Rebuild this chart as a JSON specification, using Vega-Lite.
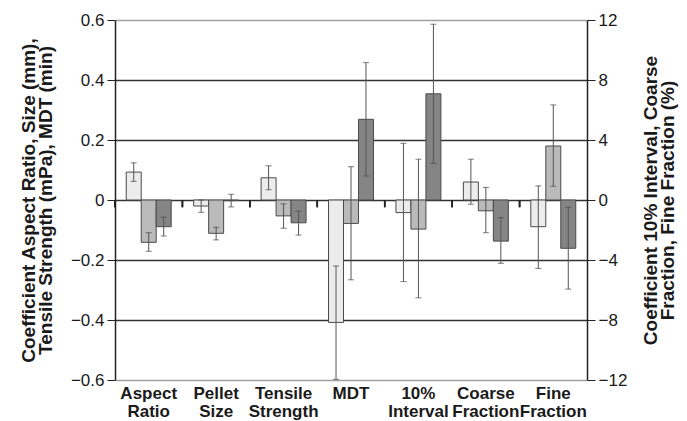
{
  "$schema": "https://vega.github.io/schema/vega-lite/v6.json",
  "autosize": "none",
  "width": 472,
  "height": 360,
  "padding": {"left": 115, "top": 20, "right": 100, "bottom": 41},
  "background": "white",
  "config": {
    "font": "Liberation Sans",
    "view": {"stroke": null},
    "axis": {"labelFont": "Liberation Sans", "titleFont": "Liberation Sans"}
  },
  "datasets": {
    "bars": [
      {"cat": "Aspect|Ratio", "s": "a", "v": 0.093, "lo": 0.062, "hi": 0.124},
      {"cat": "Aspect|Ratio", "s": "b", "v": -0.141, "lo": -0.171, "hi": -0.109},
      {"cat": "Aspect|Ratio", "s": "c", "v": -0.089, "lo": -0.12, "hi": -0.057},
      {"cat": "Pellet|Size", "s": "a", "v": -0.02, "lo": -0.041, "hi": 0.0},
      {"cat": "Pellet|Size", "s": "b", "v": -0.111, "lo": -0.133, "hi": -0.091},
      {"cat": "Pellet|Size", "s": "c", "v": -0.002, "lo": -0.023, "hi": 0.019},
      {"cat": "Tensile|Strength", "s": "a", "v": 0.074, "lo": 0.034, "hi": 0.114},
      {"cat": "Tensile|Strength", "s": "b", "v": -0.053, "lo": -0.094, "hi": -0.013},
      {"cat": "Tensile|Strength", "s": "c", "v": -0.076, "lo": -0.117, "hi": -0.037},
      {"cat": "MDT", "s": "a", "v": -0.408, "lo": -0.598, "hi": -0.22},
      {"cat": "MDT", "s": "b", "v": -0.078, "lo": -0.266, "hi": 0.111},
      {"cat": "MDT", "s": "c", "v": 0.269, "lo": 0.08, "hi": 0.458},
      {"cat": "10%|Interval", "s": "a", "v": -0.042, "lo": -0.272, "hi": 0.189},
      {"cat": "10%|Interval", "s": "b", "v": -0.097, "lo": -0.326, "hi": 0.136},
      {"cat": "10%|Interval", "s": "c", "v": 0.354, "lo": 0.122, "hi": 0.586},
      {"cat": "Coarse|Fraction", "s": "a", "v": 0.06, "lo": -0.014, "hi": 0.136},
      {"cat": "Coarse|Fraction", "s": "b", "v": -0.036, "lo": -0.109, "hi": 0.042},
      {"cat": "Coarse|Fraction", "s": "c", "v": -0.137, "lo": -0.211, "hi": -0.059},
      {"cat": "Fine|Fraction", "s": "a", "v": -0.089, "lo": -0.228, "hi": 0.047},
      {"cat": "Fine|Fraction", "s": "b", "v": 0.18, "lo": 0.046, "hi": 0.317},
      {"cat": "Fine|Fraction", "s": "c", "v": -0.161, "lo": -0.297, "hi": -0.024}
    ],
    "right": [{"r": -12}, {"r": 12}]
  },
  "layer": [
    {
      "layer": [
        {
          "data": {"name": "bars"},
          "mark": {"type": "bar", "stroke": "#4a4a4a", "strokeWidth": 1},
          "encoding": {
            "x": {
              "field": "cat", "type": "nominal", "sort": null,
              "scale": {"paddingInner": 0, "paddingOuter": 0},
              "axis": {
                "orient": "bottom", "title": null, "domain": false, "ticks": false,
                "labelAngle": 0, "labelExpr": "split(datum.label, '|')",
                "labelFontWeight": "bold", "labelFontSize": 17, "labelColor": "#1a1a1a",
                "labelLineHeight": 18, "labelPadding": 5
              }
            },
            "xOffset": {
              "field": "s", "type": "nominal",
              "scale": {"paddingInner": 0, "paddingOuter": 0.75}
            },
            "y": {
              "field": "v", "type": "quantitative",
              "scale": {"domain": [-0.6, 0.6], "nice": false, "zero": false},
              "axis": {
                "orient": "left",
                "values": [-0.6, -0.4, -0.2, 0, 0.2, 0.4, 0.6],
                "labelExpr": "datum.value == 0 ? '0' : format(datum.value, '.1f')",
                "labelFontSize": 17, "labelColor": "#1a1a1a", "labelPadding": 3,
                "tickSize": 8, "tickColor": "#222", "domainColor": "#222", "domainWidth": 1.5,
                "grid": true,
                "gridColor": {"condition": {"test": "abs(datum.value) > 0.5", "value": "#a0a0a0"}, "value": "#333333"},
                "gridWidth": 1.5,
                "title": ["Coefficient Aspect Ratio, Size (mm),", "Tensile Strength (mPa), MDT (min)"],
                "titleFontSize": 19, "titleFontWeight": "bold", "titleColor": "#1a1a1a",
                "titleLineHeight": 17, "titlePadding": 15
              }
            },
            "fill": {
              "field": "s", "type": "nominal",
              "scale": {"domain": ["a", "b", "c"], "range": ["#ececec", "#bababa", "#858585"]},
              "legend": null
            }
          }
        },
        {
          "mark": {"type": "rule", "color": "#111", "strokeWidth": 2},
          "encoding": {"y": {"datum": 0, "type": "quantitative"}}
        },
        {
          "data": {"name": "bars"},
          "mark": {"type": "rule", "color": "#222", "strokeWidth": 1.5},
          "encoding": {
            "x": {"field": "cat", "type": "nominal", "sort": null, "bandPosition": 0, "axis": null},
            "y": {"datum": 0, "type": "quantitative"},
            "y2": {"datum": -0.024}
          }
        },
        {
          "data": {"name": "bars"},
          "mark": {"type": "rule", "color": "#555", "strokeWidth": 1},
          "encoding": {
            "x": {"field": "cat", "type": "nominal", "sort": null, "axis": null},
            "xOffset": {"field": "s", "type": "nominal"},
            "y": {"field": "lo", "type": "quantitative"},
            "y2": {"field": "hi"}
          }
        },
        {
          "data": {"name": "bars"},
          "mark": {"type": "tick", "color": "#444", "thickness": 1, "size": 6, "orient": "horizontal"},
          "encoding": {
            "x": {"field": "cat", "type": "nominal", "sort": null, "axis": null},
            "xOffset": {"field": "s", "type": "nominal"},
            "y": {"field": "lo", "type": "quantitative"}
          }
        },
        {
          "data": {"name": "bars"},
          "mark": {"type": "tick", "color": "#444", "thickness": 1, "size": 6, "orient": "horizontal"},
          "encoding": {
            "x": {"field": "cat", "type": "nominal", "sort": null, "axis": null},
            "xOffset": {"field": "s", "type": "nominal"},
            "y": {"field": "hi", "type": "quantitative"}
          }
        }
      ],
      "resolve": {"axis": {"x": "independent"}}
    },
    {
      "data": {"name": "right"},
      "mark": {"type": "point", "opacity": 0},
      "encoding": {
        "y": {
          "field": "r", "type": "quantitative",
          "scale": {"domain": [-12, 12], "nice": false, "zero": false},
          "axis": {
            "orient": "right",
            "values": [-12, -8, -4, 0, 4, 8, 12],
            "labelFontSize": 17, "labelColor": "#1a1a1a", "labelPadding": 3,
            "tickSize": 8, "tickColor": "#222", "domainColor": "#222", "domainWidth": 1.5,
            "grid": false,
            "title": ["Coefficient 10% Interval, Coarse", "Fraction, Fine Fraction (%)"],
            "titleAngle": -90,
            "titleFontSize": 19, "titleFontWeight": "bold", "titleColor": "#1a1a1a",
            "titleLineHeight": 17, "titlePadding": 17
          }
        }
      }
    }
  ],
  "resolve": {"scale": {"y": "independent"}}
}
